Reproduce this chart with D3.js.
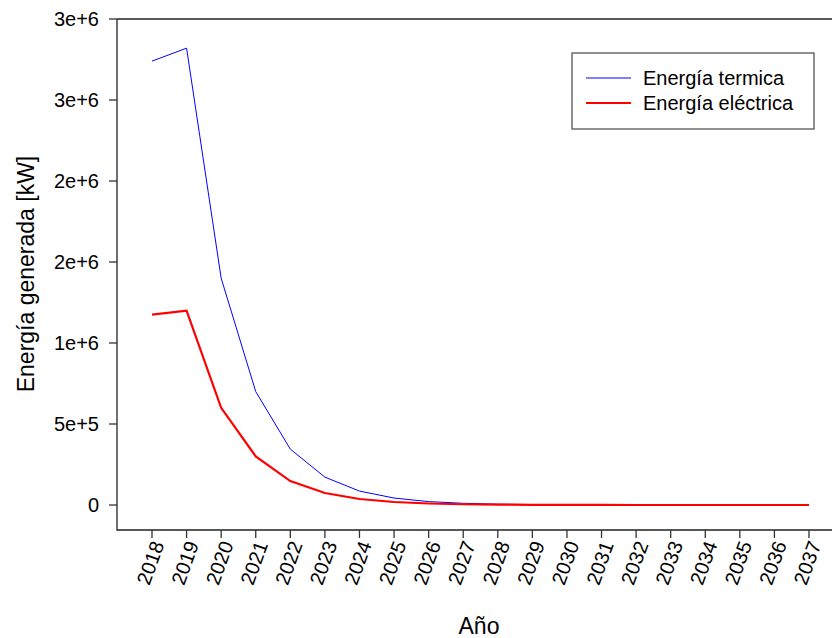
<!DOCTYPE html>
<html><head><meta charset="utf-8">
<script src="https://cdn.jsdelivr.net/npm/d3@7"></script>
<style>body{margin:0;background:#fff}svg{display:block;font-family:"Liberation Sans",Arial,sans-serif}</style>
</head><body><svg id="c" width="832" height="638"></svg>
<script>
const years = [2018,2019,2020,2021,2022,2023,2024,2025,2026,2027,2028,2029,2030,2031,2032,2033,2034,2035,2036,2037];
const termica = [2740000,2820000,1400000,700000,345000,172000,86000,43000,21000,10500,5200,2600,1300,650,320,160,80,40,20,10];
const electrica = [1175000,1200000,600000,300000,148000,74000,37000,18500,9200,4600,2300,1150,570,290,140,70,35,18,9,4];
const yTicks = [0,500000,1000000,1500000,2000000,2500000,3000000];
const yTickLabels = ["0","5e+5","1e+6","2e+6","2e+6","3e+6","3e+6"];
const seriesNames = ["Energía termica","Energía eléctrica"];
const colors = ["#0000ff","#ff0000"];

const svg = d3.select("#c");
const L=117, T=19, R=845, B=530;
const x = d3.scaleLinear().domain([2018,2037]).range([152,809]);
const y = d3.scaleLinear().domain([0,3000000]).range([505,19]);

// box
svg.append("path").attr("d",`M${L},${T}H${R}M${L},${T}V${B}H${R}`).attr("fill","none").attr("stroke","#222").attr("stroke-width",1.3);

// y axis
const ya = svg.append("g");
yTicks.forEach((t,i)=>{
  ya.append("line").attr("x1",L-8).attr("x2",L).attr("y1",y(t)).attr("y2",y(t)).attr("stroke","#333").attr("stroke-width",1.3);
  ya.append("text").attr("x",99).attr("y",y(t)).attr("dy","0.35em").attr("text-anchor","end").attr("font-size",20).text(yTickLabels[i]);
});
// x axis
const xa = svg.append("g");
years.forEach(yr=>{
  xa.append("line").attr("x1",x(yr)).attr("x2",x(yr)).attr("y1",B).attr("y2",B+8).attr("stroke","#333").attr("stroke-width",1.3);
  xa.append("text").attr("transform",`translate(${x(yr)+6},${B+12}) rotate(-70)`).attr("text-anchor","end").attr("dy","0.35em").attr("font-size",20).text(yr);
});

svg.append("text").attr("x",479).attr("y",634).attr("text-anchor","middle").attr("font-size",23).text("Año");
svg.append("text").attr("transform",`translate(34,274) rotate(-90)`).attr("text-anchor","middle").attr("font-size",23).text("Energía generada [kW]");

const line = d3.line().x((d,i)=>x(years[i])).y(d=>y(d));
svg.append("path").datum(termica).attr("d",line).attr("fill","none").attr("stroke",colors[0]).attr("stroke-width",1);
svg.append("path").datum(electrica).attr("d",line).attr("fill","none").attr("stroke",colors[1]).attr("stroke-width",2.2);

// legend
const lg = svg.append("g");
lg.append("rect").attr("x",572).attr("y",53).attr("width",242).attr("height",76).attr("fill","#fff").attr("stroke","#555").attr("stroke-width",1.3);
seriesNames.forEach((n,i)=>{
  const yy = 78 + i*25;
  lg.append("line").attr("x1",586).attr("x2",631).attr("y1",yy).attr("y2",yy).attr("stroke",colors[i]).attr("stroke-width",i?2.2:1);
  lg.append("text").attr("x",643).attr("y",yy).attr("dy","0.35em").attr("font-size",20).text(n);
});
</script></body></html>
